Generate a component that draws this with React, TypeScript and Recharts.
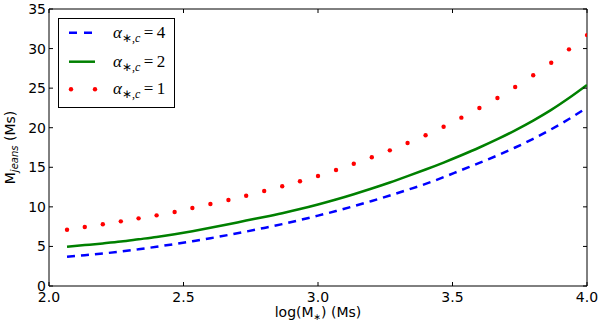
import React from 'react';
import { LineChart, Line, XAxis, YAxis, ReferenceLine, Legend } from 'recharts';

// log(M*) positions of the sampled points
const logMass = [2.067, 2.133, 2.2, 2.267, 2.333, 2.4, 2.467, 2.533, 2.6, 2.667, 2.733, 2.8, 2.867, 2.933, 3.0, 3.067, 3.133, 3.2, 3.267, 3.333, 3.4, 3.467, 3.533, 3.6, 3.667, 3.733, 3.8, 3.867, 3.933, 4.0];

// alpha*,c = 4 (blue dashed)
const alpha4 = [3.7, 3.9, 4.11, 4.35, 4.64, 4.96, 5.3, 5.66, 6.04, 6.45, 6.88, 7.34, 7.82, 8.34, 8.89, 9.47, 10.09, 10.74, 11.43, 12.15, 12.9, 13.75, 14.65, 15.55, 16.5, 17.5, 18.6, 19.8, 21.1, 22.55];
// alpha*,c = 2 (green solid)
const alpha2 = [4.97, 5.17, 5.38, 5.61, 5.9, 6.2, 6.55, 6.93, 7.35, 7.8, 8.27, 8.72, 9.2, 9.72, 10.3, 10.93, 11.6, 12.32, 13.08, 13.88, 14.72, 15.6, 16.52, 17.5, 18.55, 19.67, 20.9, 22.25, 23.75, 25.4];
// alpha*,c = 1 (red dots)
const alpha1 = [7.1, 7.46, 7.8, 8.17, 8.55, 8.93, 9.35, 9.86, 10.37, 10.87, 11.4, 12.0, 12.6, 13.23, 13.9, 14.66, 15.45, 16.26, 17.14, 18.07, 19.04, 20.13, 21.27, 22.49, 23.75, 25.15, 26.62, 28.2, 29.9, 31.7];

const xTicks = [2.0, 2.5, 3.0, 3.5, 4.0];
const xTickLabels = ['2.0', '2.5', '3.0', '3.5', '4.0'];
const yTicks = [0, 5, 10, 15, 20, 25, 30, 35];
const yTickLabels = ['0', '5', '10', '15', '20', '25', '30', '35'];

const legendItems = [
  { key: 'a4', value: '4' },
  { key: 'a2', value: '2' },
  { key: 'a1', value: '1' },
];

const data = logMass.map((x, i) => ({ x, a4: alpha4[i], a2: alpha2[i], a1: alpha1[i] }));

const PLOT_TOP = 9;
const PLOT_BOTTOM = 286;
const PLOT_LEFT = 49;
const PLOT_RIGHT = 587;
const SANS = 'DejaVu Sans';
const SERIF = 'Liberation Serif';

const XTick = (props: any) => {
  const { x, payload } = props;
  const idx = xTicks.indexOf(payload.value);
  const label = idx >= 0 ? xTickLabels[idx] : String(payload.value);
  return (
    <g>
      <line x1={x} x2={x} y1={PLOT_BOTTOM} y2={PLOT_BOTTOM - 4} stroke="#000" strokeWidth={1} />
      <line x1={x} x2={x} y1={PLOT_TOP} y2={PLOT_TOP + 4} stroke="#000" strokeWidth={1} />
      <text x={x} y={PLOT_BOTTOM + 15.7} textAnchor="middle" fontFamily={SANS} fontSize={14} fill="#000">
        {label}
      </text>
    </g>
  );
};

const YTick = (props: any) => {
  const { y, payload } = props;
  const idx = yTicks.indexOf(payload.value);
  const label = idx >= 0 ? yTickLabels[idx] : String(payload.value);
  return (
    <g>
      <line x1={PLOT_LEFT} x2={PLOT_LEFT + 4} y1={y} y2={y} stroke="#000" strokeWidth={1} />
      <line x1={PLOT_RIGHT} x2={PLOT_RIGHT - 4} y1={y} y2={y} stroke="#000" strokeWidth={1} />
      <text x={PLOT_LEFT - 3} y={y + 5} textAnchor="end" fontFamily={SANS} fontSize={14} fill="#000">
        {label}
      </text>
    </g>
  );
};

const YLabel = () => {
  const cx = 14.5;
  const cy = 147.5;
  return (
    <text x={cx} y={cy} transform={`rotate(-90, ${cx}, ${cy})`} textAnchor="middle" fontFamily={SANS} fontSize={14} fill="#000">
      M
      <tspan fontSize={10} fontStyle="italic" dy={3}>jeans</tspan>
      <tspan dy={-3}> (Ms)</tspan>
    </text>
  );
};

const XLabel = () => (
  <text x={318} y={317} textAnchor="middle" fontFamily={SANS} fontSize={14} fill="#000">
    log(M
    <tspan fontSize={9} dy={3}>∗</tspan>
    <tspan dy={-3}>) (Ms)</tspan>
  </text>
);

const LegendBox = () => {
  const rows = [13.7, 42.7, 70.3];
  return (
    <div style={{ width: 117, height: 90, boxSizing: 'border-box', border: '1px solid #000', background: '#fff' }}>
      <svg width={115} height={88} style={{ display: 'block' }}>
        {legendItems.map((item, i) => {
          const y = rows[i];
          let sample: React.ReactNode = null;
          if (item.key === 'a4') {
            sample = <line x1={10} x2={36} y1={y} y2={y} stroke="#0000ff" strokeWidth={2.5} strokeDasharray="8 7" />;
          } else if (item.key === 'a2') {
            sample = <line x1={10} x2={36} y1={y} y2={y} stroke="#008000" strokeWidth={2.5} />;
          } else {
            sample = (
              <g>
                <circle cx={12} cy={y} r={2.2} fill="#ff0000" />
                <circle cx={36} cy={y} r={2.2} fill="#ff0000" />
              </g>
            );
          }
          return (
            <g key={item.key}>
              {sample}
              <text x={54} y={y + 5} fontFamily={SERIF} fontSize={17} fill="#000">
                <tspan fontStyle="italic">α</tspan>
                <tspan fontSize={12} dy={4}>∗,</tspan>
                <tspan fontSize={12} fontStyle="italic">c</tspan>
                <tspan dy={-4}>{'\u2009=\u2009'}{item.value}</tspan>
              </text>
            </g>
          );
        })}
      </svg>
    </div>
  );
};

export default function App() {
  return (
    <div style={{ position: 'absolute', left: 0, top: 0, width: 600, height: 322, background: '#fff' }}>
      <LineChart width={600} height={322} data={data} margin={{ top: PLOT_TOP, right: 13, left: 0, bottom: 0 }}>
        <XAxis
          dataKey="x"
          type="number"
          domain={[2, 4]}
          ticks={xTicks}
          tick={<XTick />}
          tickLine={false}
          axisLine={{ stroke: '#000', strokeWidth: 1 }}
          height={36}
          interval={0}
          allowDataOverflow
          label={<XLabel />}
        />
        <YAxis
          type="number"
          domain={[0, 35]}
          ticks={yTicks}
          tick={<YTick />}
          tickLine={false}
          axisLine={{ stroke: '#000', strokeWidth: 1 }}
          width={49}
          interval={0}
          allowDataOverflow
          label={<YLabel />}
        />
        <ReferenceLine y={35} stroke="#000" strokeWidth={1} />
        <ReferenceLine x={4} stroke="#000" strokeWidth={1} />
        <Line dataKey="a4" type="monotone" stroke="#0000ff" strokeWidth={2.5} strokeDasharray="8 6" dot={false} isAnimationActive={false} />
        <Line dataKey="a2" type="monotone" stroke="#008000" strokeWidth={2.5} dot={false} isAnimationActive={false} />
        <Line dataKey="a1" type="monotone" stroke="none" strokeWidth={0} dot={{ r: 2.2, fill: '#ff0000', stroke: 'none' }} isAnimationActive={false} />
        <Legend
          layout="horizontal"
          verticalAlign="middle"
          align="center"
          content={<LegendBox />}
          wrapperStyle={{ left: 58, top: 18, width: 117, height: 90 }}
        />
      </LineChart>
    </div>
  );
}
